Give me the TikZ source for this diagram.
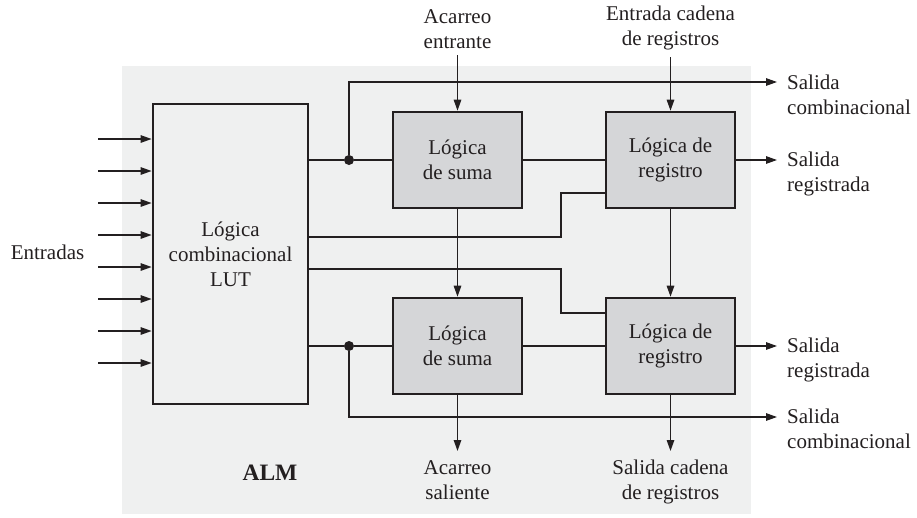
\documentclass[tikz,border=0pt]{standalone}
\usepackage{fontspec}
\setmainfont{Liberation Serif}
\usetikzlibrary{arrows.meta}
\definecolor{bggray}{HTML}{EFF0F0}
\definecolor{boxgray}{HTML}{D5D6D8}
\definecolor{ink}{HTML}{231F20}
\begin{document}
\begin{tikzpicture}[x=1pt,y=-1pt,
  txt/.style={font=\fontsize{21}{25}\selectfont, inner sep=0pt, text=ink},
  lbl/.style={txt, align=center},
  rlbl/.style={txt, align=left, anchor=north west},
  blk/.style={draw=ink, line width=2.6pt, fill=boxgray, minimum width=129pt, minimum height=96pt, align=center, txt},
  lutbox/.style={draw=ink, line width=2.8pt, fill=bggray, minimum width=155pt, minimum height=300pt, align=center, txt},
  wire/.style={draw=ink, line width=1.3pt},
  arr/.style={wire, -{Triangle[length=11pt,width=7.5pt]}},
  jdot/.style={circle, fill=ink, inner sep=0pt, minimum size=10pt}]
\useasboundingbox (0,0) rectangle (917,517);
\fill[bggray] (122,66) rectangle (751,514);

% blocks
\node[lutbox] (lut) at (230.5,254) {Lógica\\combinacional\\LUT};
\node[blk] (add1) at (457.5,160) {Lógica\\de suma};
\node[blk] (add2) at (457.5,346) {Lógica\\de suma};
\node[blk] (reg1) at (670.5,160) {Lógica de\\registro};
\node[blk] (reg2) at (670.5,346) {Lógica de\\registro};

% inputs
\foreach \i in {0,...,7} {
  \coordinate (in\i) at (98,139+32*\i);
  \draw[arr] (in\i) -- (lut.west |- in\i);
}
\node[txt] (entr) at (47.5,252) {Entradas};

% junctions
\node[jdot] (d1) at (349,160) {};
\node[jdot] (d2) at (349,346) {};
\coordinate (j1) at (561,237);
\coordinate (j2) at (561,269);

% outputs / inputs end points
\coordinate (so1) at (777,82);
\coordinate (sr1) at (777,160);
\coordinate (sr2) at (777,346);
\coordinate (so2) at (777,417);
\coordinate (ain) at (457.5,55);
\coordinate (cin) at (670.5,57);
\coordinate (aout) at (457.5,451);
\coordinate (cout) at (670.5,451);

% wires
\draw[wire] (lut.east |- d1) -- (d1) -- (add1.west);
\draw[arr] (d1) |- (so1);
\draw[wire] (lut.east |- j1) -- (j1) |- ([yshift=-33pt]reg1.west);
\draw[wire] (lut.east |- j2) -- (j2) |- ([yshift=33pt]reg2.west);
\draw[wire] (lut.east |- d2) -- (d2) -- (add2.west);
\draw[arr] (d2) |- (so2);
\draw[wire] (add1.east) -- (reg1.west);
\draw[wire] (add2.east) -- (reg2.west);
\draw[arr] (reg1.east) -- (sr1);
\draw[arr] (reg2.east) -- (sr2);
\draw[arr] (add1.south) -- (add2.north);
\draw[arr] (reg1.south) -- (reg2.north);
\draw[arr] (add2.south) -- (aout);
\draw[arr] (reg2.south) -- (cout);
\draw[arr] (ain) -- (add1.north);
\draw[arr] (cin) -- (reg1.north);

% labels
\node[lbl, anchor=south] (lain) at (457.5,49) {Acarreo\\entrante};
\node[lbl, anchor=south] (lcin) at (670.5,50) {Entrada cadena\\de registros};
\node[lbl, anchor=north] (laout) at (457.5,460) {Acarreo\\saliente};
\node[lbl, anchor=north] (lcout) at (670.5,460) {Salida cadena\\de registros};
\node[rlbl] (lso1) at (787,75) {Salida\\combinacional};
\node[rlbl] (lsr1) at (787,152) {Salida\\registrada};
\node[rlbl] (lsr2) at (787,338) {Salida\\registrada};
\node[rlbl] (lso2) at (787,409) {Salida\\combinacional};
\node[txt, font=\fontsize{23.5}{28}\selectfont\bfseries] (alm) at (270,473) {ALM};
\end{tikzpicture}
\end{document}
